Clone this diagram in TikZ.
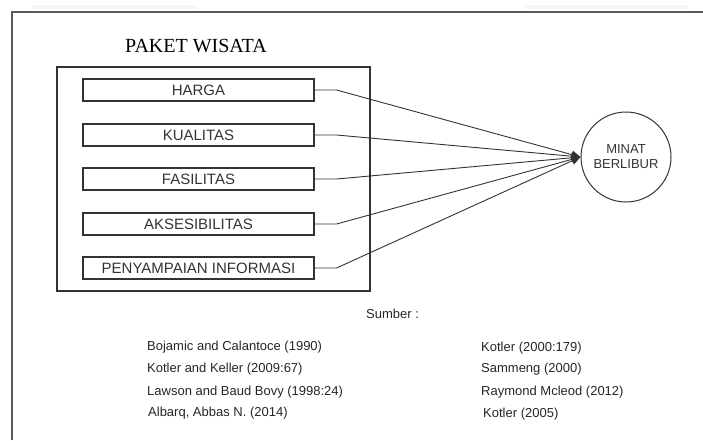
\documentclass[tikz,border=0pt]{standalone}
\usepackage{fontspec}
\setmainfont{Liberation Serif}
\newfontfamily\arialf{Liberation Sans}
\usetikzlibrary{arrows.meta}
\definecolor{ink}{HTML}{333333}
\definecolor{frame}{HTML}{5A5A5A}
\tikzset{
  itembox/.style={draw=ink, line width=1.1pt, minimum width=231pt, minimum height=22pt, inner sep=0pt,
    font=\arialf\fontsize{15}{18}\selectfont, text=ink},
  link/.style={draw=ink, line width=0.9pt, -{Triangle[length=9pt,width=8pt]}},
  reftext/.style={anchor=west, inner sep=0pt, font=\arialf\fontsize{13}{15}\selectfont, text=black!85},
}
\begin{document}
\begin{tikzpicture}[x=1pt,y=-1pt]
\useasboundingbox (0,0) rectangle (703,440);
% faint screenshot strips
\fill[black!4] (32,5) rectangle (197,9);
\fill[black!4] (525,5) rectangle (688,9);
% outer frame
\draw[frame, line width=1.4pt] (12,440) -- (12,12) -- (703,12);
% title
\node (title) at (196,46) {\fontsize{20}{22}\selectfont PAKET WISATA};
% group box
\node[draw=ink, line width=1.1pt, minimum width=313pt, minimum height=224pt, inner sep=0pt] (group) at (213.5,179) {};
% items
\node[itembox] (harga) at (198.5,90) {HARGA};
\node[itembox] (kual) at (198.5,135) {KUALITAS};
\node[itembox] (fas) at (198.5,179) {FASILITAS};
\node[itembox] (aks) at (198.5,224) {AKSESIBILITAS};
\node[itembox] (peny) at (198.5,268) {PENYAMPAIAN INFORMASI};
% target
\node[draw=ink, line width=1pt, circle, minimum size=90pt, inner sep=0pt, align=center,
  font=\arialf\fontsize{13}{15}\selectfont, text=ink] (minat) at (626,157) {MINAT\\BERLIBUR};
% connectors
\draw[link] (harga.east) -- ++(22,0) -- (minat.west);
\draw[link] (kual.east) -- ++(22,0) -- (minat.west);
\draw[link] (fas.east) -- ++(22,0) -- (minat.west);
\draw[link] (aks.east) -- ++(22,0) -- (minat.west);
\draw[link] (peny.east) -- ++(22,0) -- (minat.west);
% sources
\node[reftext] (sumber) at (366,314) {Sumber :};
\node[reftext] (l1) at (147,347) {Bojamic and Calantoce (1990)};
\node[reftext] (l2) at (147,369) {Kotler and Keller (2009:67)};
\node[reftext] (l3) at (147,392) {Lawson and Baud Bovy (1998:24)};
\node[reftext] (l4) at (148,413) {Albarq, Abbas N. (2014)};
\node[reftext] (r1) at (481,348) {Kotler (2000:179)};
\node[reftext] (r2) at (481,369) {Sammeng (2000)};
\node[reftext] (r3) at (481,392) {Raymond Mcleod (2012)};
\node[reftext] (r4) at (483,414) {Kotler (2005)};
\end{tikzpicture}
\end{document}
